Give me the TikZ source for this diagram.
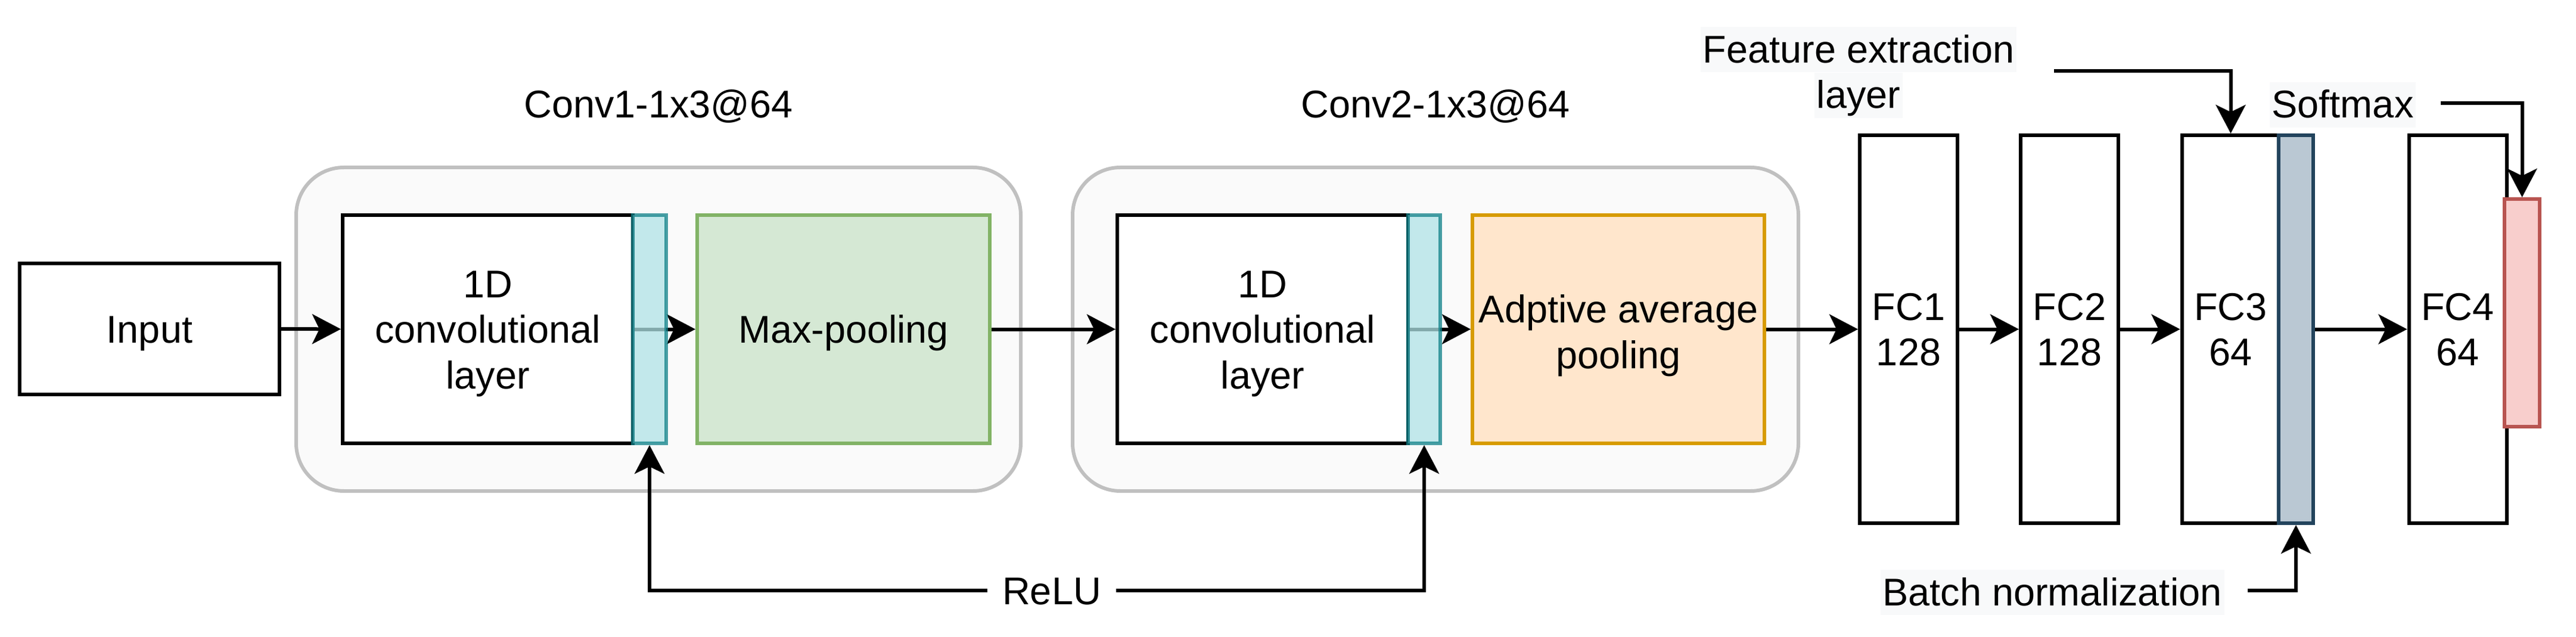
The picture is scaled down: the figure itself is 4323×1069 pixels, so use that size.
\documentclass[tikz,border=0pt]{standalone}
\usepackage{fontspec}
\setmainfont{Liberation Sans}
\usetikzlibrary{arrows.meta}
\definecolor{outerfill}{HTML}{FAFAFA}
\definecolor{outerdraw}{HTML}{C0C0C0}
\definecolor{cyanfill}{HTML}{B0E3E6}
\definecolor{cyandraw}{HTML}{0E8088}
\definecolor{greenfill}{HTML}{D5E8D4}
\definecolor{greendraw}{HTML}{82B366}
\definecolor{orangefill}{HTML}{FFE6CC}
\definecolor{orangedraw}{HTML}{D79B00}
\definecolor{bnfill}{HTML}{BAC8D3}
\definecolor{bndraw}{HTML}{23445D}
\definecolor{redfill}{HTML}{F8CECC}
\definecolor{reddraw}{HTML}{B85450}
\definecolor{labelbg}{HTML}{F8F9FA}
\newcommand{\lbgbox}[1]{{\setlength{\fboxsep}{0pt}\colorbox{labelbg}{\rule[-4pt]{0pt}{19pt}\hspace{1pt}#1\hspace{1pt}}}}
\begin{document}
\begin{tikzpicture}[x=0.25pt,y=-0.25pt,
  every node/.style={font=\fontsize{16.2pt}{19.1pt}\selectfont},
  outerbox/.style={draw=outerdraw,fill=outerfill,line width=1.5pt,rounded corners=20pt,minimum width=#1,minimum height=135.75pt,inner sep=0pt},
  blk/.style={draw=black,fill=white,line width=1.5pt,inner sep=0pt,align=center},
  oneline/.style={text height=11.6pt,text depth=0pt},
  twoline/.style={text height=30.7pt,text depth=0pt},
  threeline/.style={text height=49.8pt,text depth=0pt},
  convbox/.style={blk,minimum width=#1,minimum height=95.75pt},
  fcbox/.style={blk,twoline,minimum width=41pt,minimum height=162.75pt},
  stripbox/.style={draw=cyandraw,fill=cyanfill,fill opacity=0.75,draw opacity=0.75,line width=1.5pt,minimum width=#1,minimum height=95.75pt,inner sep=0pt},
  arr/.style={line width=1.5pt,-{Stealth[length=12pt,width=12.5pt,inset=3pt]}},
  caplbl/.style={inner xsep=6pt,inner ysep=0pt,text height=11.6pt,text depth=0pt},
  bglbl/.style={fill=labelbg,inner xsep=1pt,inner ysep=0pt,text height=15pt,text depth=4pt},
  ]
\useasboundingbox (0,0) rectangle (4323,1069);
% group frames
\node[outerbox=304pt] (outer1) at (1105,552.5) {};
\node[outerbox=304.5pt] (outer2) at (2409,552.5) {};
\node[caplbl] (c1lbl) at (1105,174) {Conv1-1x3@64};
\node[caplbl] (c2lbl) at (2409,174) {Conv2-1x3@64};
% main blocks
\node[blk,oneline,minimum width=109pt,minimum height=55pt] (input) at (251,552) {Input};
\node[convbox=121.75pt,threeline] (conv1) at (818.5,552.5) {1D\\convolutional\\layer};
\node[convbox=122.75pt,oneline,draw=greendraw,fill=greenfill] (pool1) at (1415.5,552.5) {Max-pooling};
\node[convbox=122pt,threeline] (conv2) at (2119,552.5) {1D\\convolutional\\layer};
\node[convbox=122.5pt,text height=32.9pt,text depth=0pt,draw=orangedraw,fill=orangefill] (pool2) at (2716,552.5) {Adptive average\\pooling};
\node[fcbox] (fc1) at (3203,552.5) {FC1\\128};
\node[fcbox] (fc2) at (3473,552.5) {FC2\\128};
\node[fcbox] (fc3) at (3743.5,552.5) {FC3\\64};
\node[fcbox] (fc4) at (4124.5,552.5) {FC4\\64};
% connectors under the activation strips
\draw[arr] (input) -- (conv1);
\draw[arr] (conv1) -- (pool1);
\draw[arr] (conv2) -- (pool2);
% activation / normalization strips
\node[stripbox=14pt] (relu1) at (1090,552.5) {};
\node[stripbox=13.5pt] (relu2) at (2390,552.5) {};
\node[draw=bndraw,fill=bnfill,line width=1.5pt,minimum width=14.5pt,minimum height=162.75pt,inner sep=0pt] (bn) at (3853,552.5) {};
\node[draw=reddraw,fill=redfill,line width=1.5pt,minimum width=14.75pt,minimum height=95.5pt,inner sep=0pt] (soft) at (4232.5,525) {};
% remaining main connectors
\draw[arr] (pool1) -- (conv2);
\draw[arr] (pool2) -- (fc1);
\draw[arr] (fc1) -- (fc2);
\draw[arr] (fc2) -- (fc3);
\draw[arr] (bn) -- (fc4);
% ReLU
\node[caplbl] (relu) at (1765,991) {ReLU};
\draw[arr] (relu.west) -| (relu1.south);
\draw[arr] (relu.east) -| (relu2.south);
% Feature extraction layer
\node[inner sep=0pt,align=center] (fe) at (3119,121.5) {\lbgbox{Feature extraction}\\\lbgbox{layer}};
\coordinate (fe0) at (3447,119);
\draw[arr] (fe0) -| (fc3.north);
% Softmax
\node[bglbl] (smx) at (3931.5,176) {Softmax};
\coordinate (sm0) at (4096,173);
\draw[arr] (sm0) -| (soft.north);
% Batch normalization
\node[bglbl] (bnl) at (3444,994) {Batch normalization};
\coordinate (bn0) at (3772,991);
\draw[arr] (bn0) -| (bn.south);
\end{tikzpicture}
\end{document}
